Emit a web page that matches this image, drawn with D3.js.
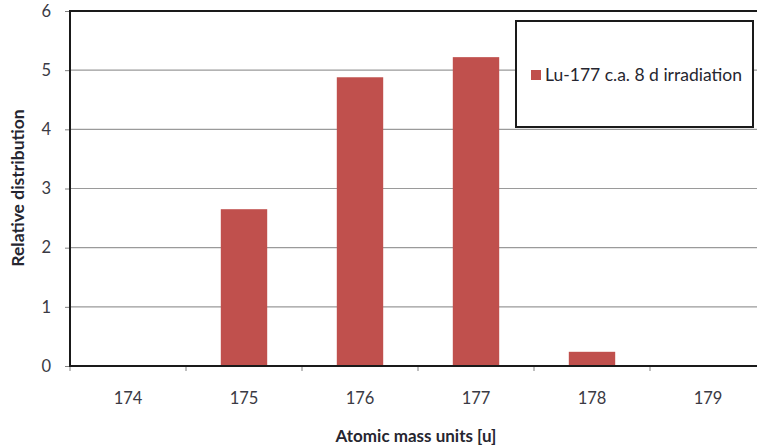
<!DOCTYPE html>
<html><head><meta charset="utf-8">
<script src="https://cdn.jsdelivr.net/npm/d3@7"></script>
<style>body{margin:0;background:#fff}svg{display:block}</style>
</head><body>
<script>
const categories = ["174","175","176","177","178","179"];
const values = [0, 2.65, 4.88, 5.22, 0.24, 0];
const yTicks = [0,1,2,3,4,5,6];
const seriesName = "Lu-177 c.a. 8 d irradiation";
const xTitle = "Atomic mass units [u]";
const yTitle = "Relative distribution";

const W = 757, H = 447;
const svg = d3.select("body").append("svg").attr("width",W).attr("height",H);
const font = "Lato, 'Open Sans', sans-serif";
const x = d3.scaleBand().domain(categories).range([70,766]).paddingInner(0).paddingOuter(0);
const y = d3.scaleLinear().domain([0,6]).range([366,11]);

// gridlines
svg.append("g").selectAll("line").data(yTicks.filter(d=>d>0 && d<6)).join("line")
  .attr("x1",70).attr("x2",766).attr("y1",d=>y(d)).attr("y2",d=>y(d))
  .attr("stroke","#9a9a9a").attr("stroke-width",1.2);

// bars
const bw = x.bandwidth()*0.4;
svg.append("g").selectAll("rect").data(values).join("rect")
  .attr("x",(d,i)=>x(categories[i])+x.bandwidth()/2-bw/2)
  .attr("width",bw)
  .attr("y",d=>y(d)).attr("height",d=>y(0)-y(d))
  .attr("fill","#c0504d");

// y axis
const ya = svg.append("g").attr("transform","translate(70,0)")
  .call(d3.axisLeft(y).tickValues(yTicks).tickFormat(d3.format("d")).tickSize(5).tickPadding(14));
ya.select(".domain").remove();
ya.selectAll(".tick line").attr("stroke","#808080");
ya.selectAll("text").attr("font-family",font).attr("font-size",16.5).attr("fill","#3a3a44");
svg.append("line").attr("x1",70).attr("x2",70).attr("y1",10).attr("y2",367).attr("stroke","#1a1a1a").attr("stroke-width",2);

// x axis
svg.append("g").selectAll("line").data(categories.slice(1)).join("line")
  .attr("x1",d=>x(d)).attr("x2",d=>x(d)).attr("y1",366).attr("y2",371)
  .attr("stroke","#808080");
svg.append("line").attr("x1",70).attr("x2",70).attr("y1",366).attr("y2",371).attr("stroke","#808080");
svg.append("line").attr("x1",69).attr("x2",766).attr("y1",366).attr("y2",366).attr("stroke","#1a1a1a").attr("stroke-width",2);
svg.append("g").selectAll("text").data(categories).join("text")
  .attr("x",d=>x(d)+x.bandwidth()/2).attr("y",404).attr("text-anchor","middle")
  .attr("font-family",font).attr("font-size",16.5).attr("fill","#3a3a44").text(d=>d);

// top border
svg.append("line").attr("x1",69).attr("x2",766).attr("y1",11).attr("y2",11).attr("stroke","#1a1a1a").attr("stroke-width",2);

// titles
svg.append("text").attr("x",416).attr("y",442).attr("text-anchor","middle")
  .attr("font-family",font).attr("font-weight","bold").attr("font-size",17).attr("fill","#262630").text(xTitle);
svg.append("text").attr("transform","translate(24,188) rotate(-90)").attr("text-anchor","middle")
  .attr("font-family",font).attr("font-weight","bold").attr("font-size",17.5).attr("fill","#262630").text(yTitle);

// legend
svg.append("rect").attr("x",516).attr("y",21).attr("width",237).attr("height",106)
  .attr("fill","#fff").attr("stroke","#1a1a1a").attr("stroke-width",2);
svg.append("rect").attr("x",531).attr("y",70).attr("width",10).attr("height",10).attr("fill","#c0504d");
svg.append("text").attr("x",545).attr("y",81).attr("font-family",font).attr("font-size",17.5)
  .attr("fill","#262630").text(seriesName);
</script>
</body></html>
